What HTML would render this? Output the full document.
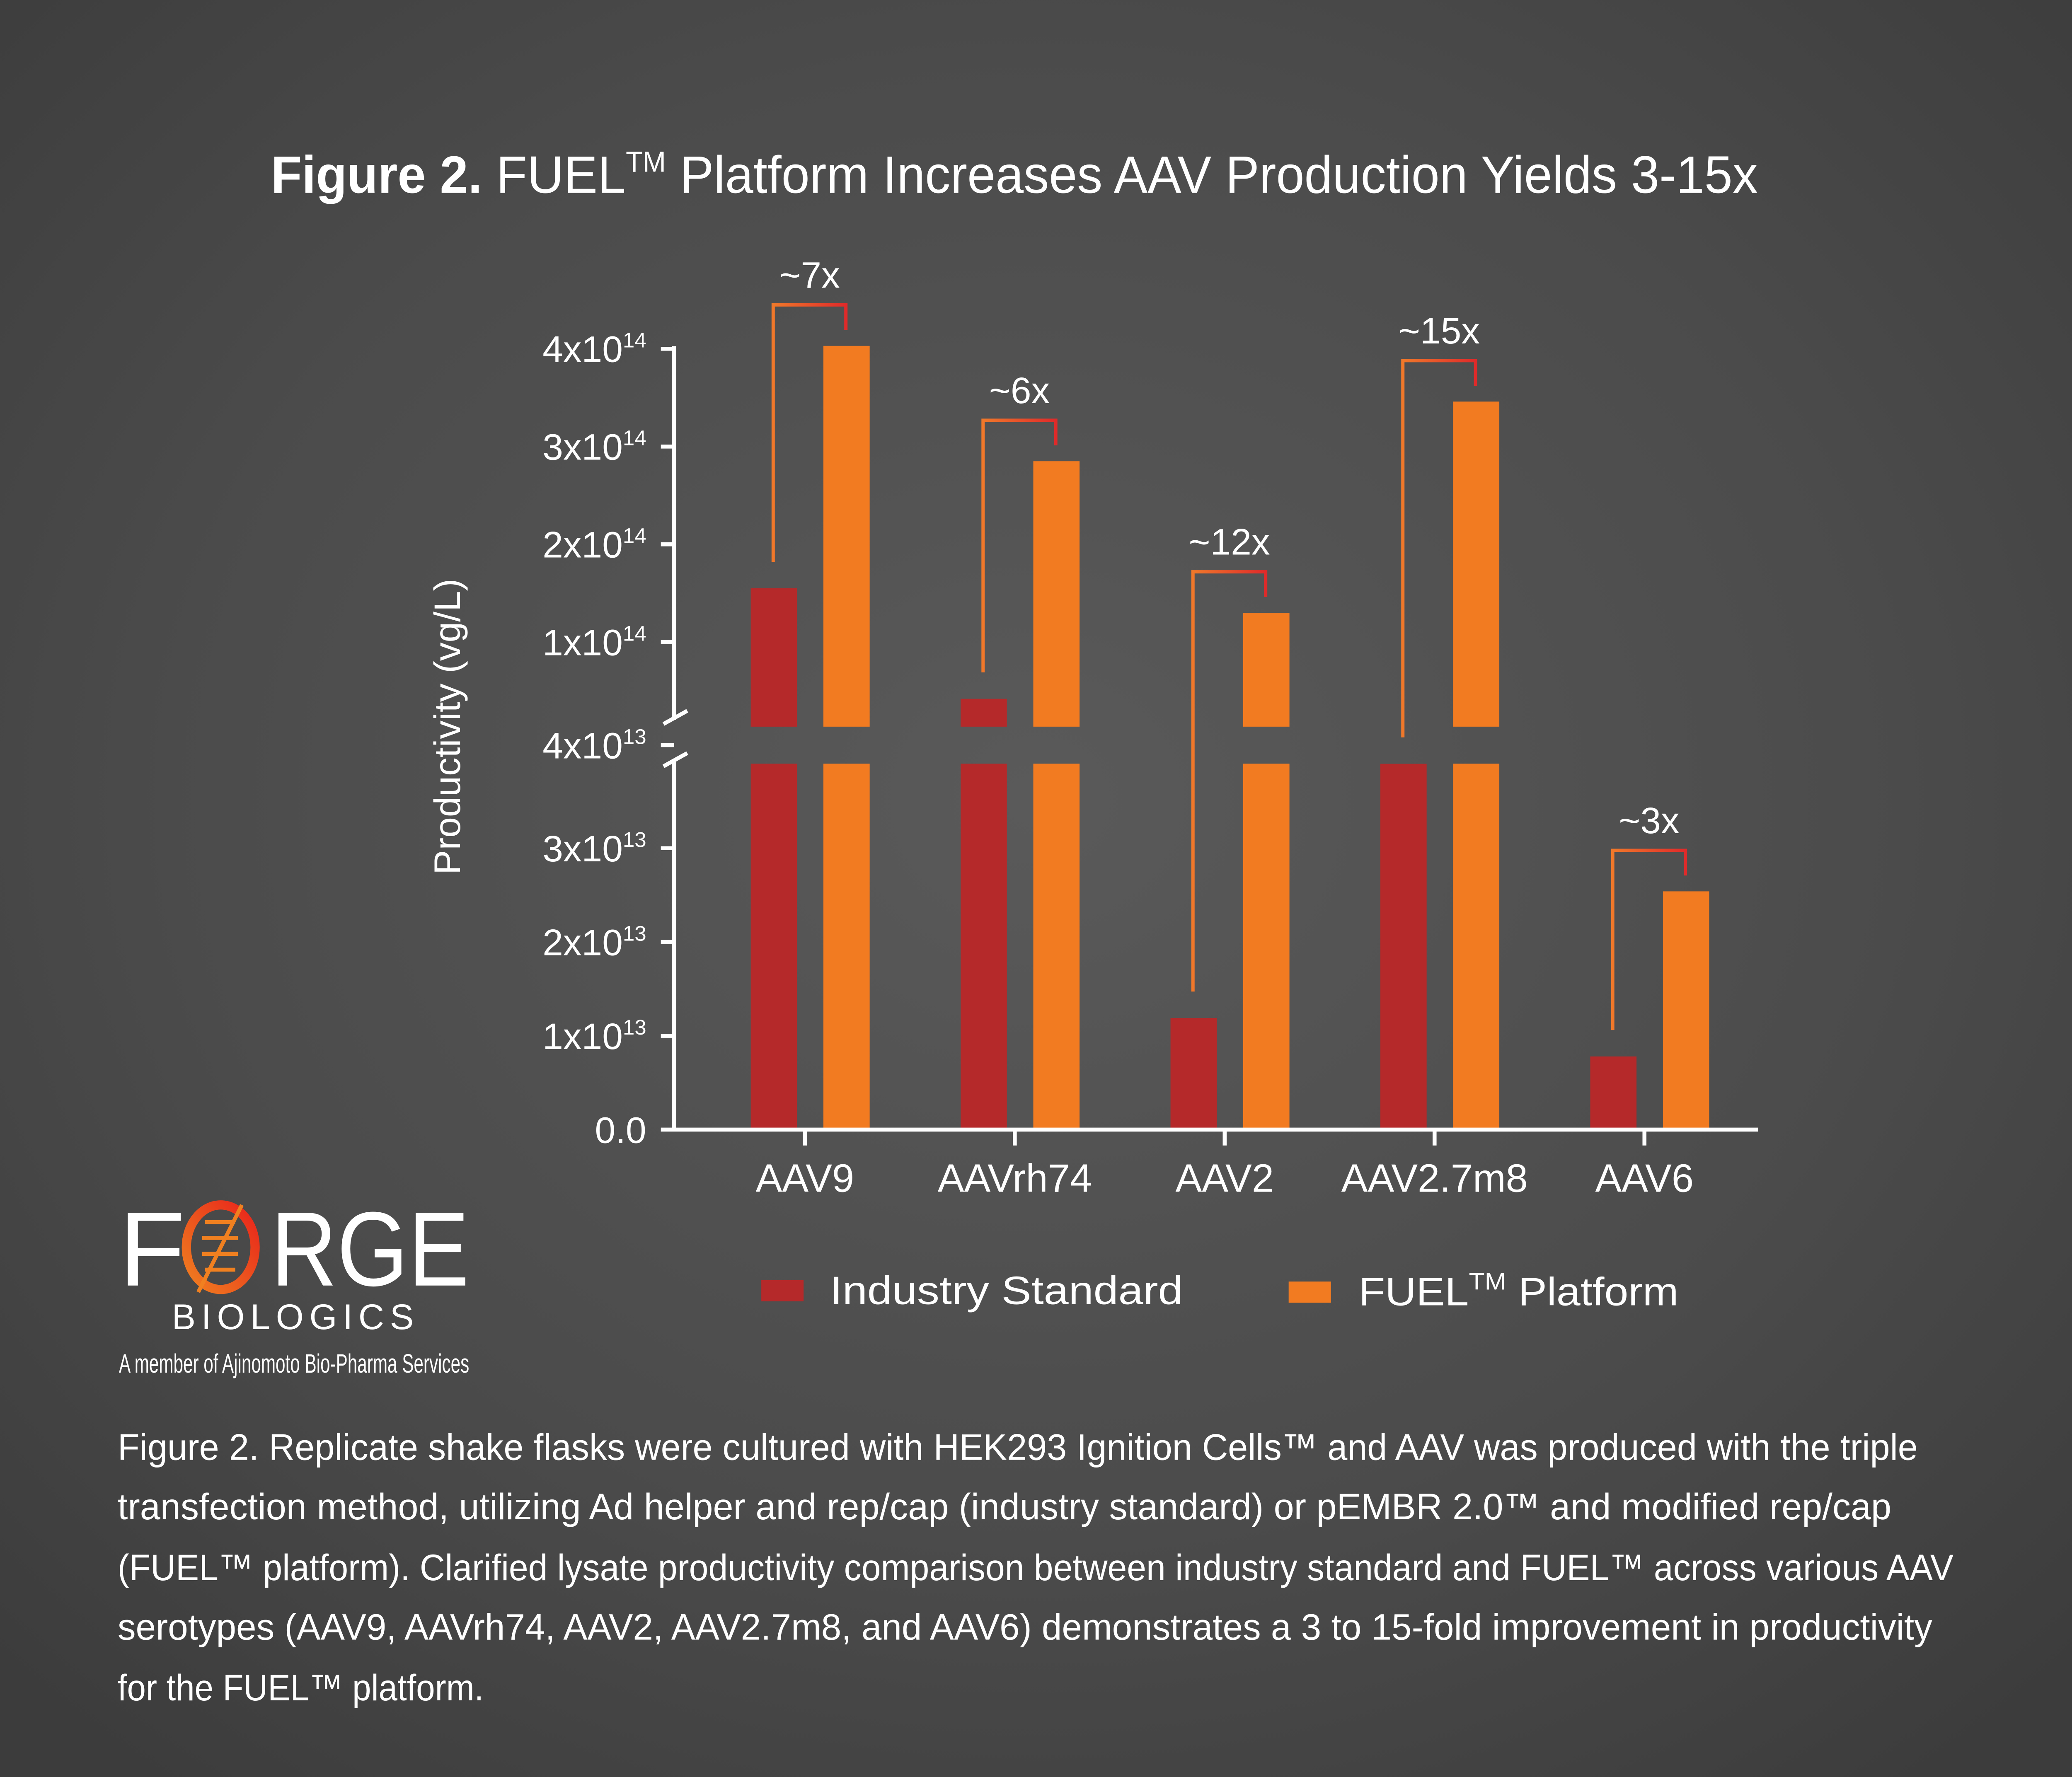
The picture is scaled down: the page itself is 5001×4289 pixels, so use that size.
<!DOCTYPE html>
<html><head><meta charset="utf-8">
<style>
html,body{margin:0;padding:0;background:#474747;}
svg{display:block;}
text{font-family:"Liberation Sans",sans-serif;fill:#fff;}
</style></head>
<body>
<svg width="5001" height="4289" viewBox="0 0 1568 1345" preserveAspectRatio="none" xmlns="http://www.w3.org/2000/svg">
<defs>
<radialGradient id="bg" cx="0.5" cy="0.45" r="0.7">
<stop offset="0" stop-color="#5a5a5a"/><stop offset="0.6" stop-color="#4b4b4b"/><stop offset="1" stop-color="#3c3c3c"/>
</radialGradient>
<linearGradient id="brk" x1="0" x2="1" y1="0" y2="0"><stop offset="0" stop-color="#f0782a"/><stop offset="1" stop-color="#e02a2a"/></linearGradient>
<linearGradient id="ologo" x1="0" x2="1" y1="1" y2="0"><stop offset="0" stop-color="#f08020"/><stop offset="1" stop-color="#e8231b"/></linearGradient>
</defs>
<rect x="0" y="0" width="1568" height="1345" fill="url(#bg)"/>

<text x="205" y="146" font-size="40" textLength="1125" lengthAdjust="spacingAndGlyphs"><tspan font-weight="bold">Figure 2.</tspan> FUEL<tspan font-size="22" dy="-16">TM</tspan><tspan dy="16"> Platform Increases AAV Production Yields 3-15x</tspan></text>

<g id="chart"></g>

<text transform="translate(348,550) rotate(-90)" text-anchor="middle" font-size="28">Productivity (vg/L)</text>

<g>
<rect x="576" y="969" width="32" height="16" fill="#b5292a"/>
<text x="628" y="987" font-size="30" textLength="267" lengthAdjust="spacingAndGlyphs">Industry Standard</text>
<rect x="975" y="970" width="32" height="16" fill="#f27b21"/>
<text x="1028" y="988" font-size="30" textLength="242" lengthAdjust="spacingAndGlyphs">FUEL<tspan font-size="18" dy="-12">TM</tspan><tspan dy="12"> Platform</tspan></text>
</g>

<g>
<text x="90" y="973" font-size="80" textLength="50" lengthAdjust="spacingAndGlyphs">F</text>
<ellipse cx="167" cy="944" rx="26" ry="32" fill="none" stroke="url(#ologo)" stroke-width="7"/>
<path d="M183 912 L150 978" stroke="#f08020" stroke-width="3" fill="none"/>
<g stroke="#f08020" stroke-width="3"><line x1="155" y1="925" x2="178" y2="925"/><line x1="153" y1="937" x2="180" y2="937"/><line x1="153" y1="949" x2="180" y2="949"/><line x1="155" y1="961" x2="178" y2="961"/></g>
<text x="205" y="973" font-size="80" textLength="150" lengthAdjust="spacingAndGlyphs">RGE</text>
<text x="130" y="1006" font-size="27" textLength="188" lengthAdjust="spacing" letter-spacing="5">BIOLOGICS</text>
<text x="90" y="1039" font-size="20" textLength="265" lengthAdjust="spacingAndGlyphs">A member of Ajinomoto Bio-Pharma Services</text>
</g>

<g font-size="28">
<text x="89" y="1105" textLength="1362" lengthAdjust="spacingAndGlyphs">Figure 2. Replicate shake flasks were cultured with HEK293 Ignition Cells™ and AAV was produced with the triple</text>
<text x="89" y="1150" textLength="1342" lengthAdjust="spacingAndGlyphs">transfection method, utilizing Ad helper and rep/cap (industry standard) or pEMBR 2.0™ and modified rep/cap</text>
<text x="89" y="1196" textLength="1389" lengthAdjust="spacingAndGlyphs">(FUEL™ platform). Clarified lysate productivity comparison between industry standard and FUEL™ across various AAV</text>
<text x="89" y="1241" textLength="1373" lengthAdjust="spacingAndGlyphs">serotypes (AAV9, AAVrh74, AAV2, AAV2.7m8, and AAV6) demonstrates a 3 to 15-fold improvement in productivity</text>
<text x="89" y="1287" textLength="277" lengthAdjust="spacingAndGlyphs">for the FUEL™ platform.</text>
</g>

<script>
const categories = ["AAV9","AAVrh74","AAV2","AAV2.7m8","AAV6"];
const industryValues = [1.55e14, 4.2e13, 1.19e13, 3.9e13, 0.78e13];
const fuelValues = [4.03e14, 2.85e14, 1.3e14, 3.46e14, 2.54e13];
const foldLabels = ["~7x","~6x","~12x","~15x","~3x"];
const lowerTicks = [0, 1e13, 2e13, 3e13];
const lowerTickLabels = [["0.0",""],["1x10","13"],["2x10","13"],["3x10","13"]];
const upperTicks = [1e14, 2e14, 3e14, 4e14];
const upperTickLabels = [["1x10","14"],["2x10","14"],["3x10","14"],["4x10","14"]];

const NS = "http://www.w3.org/2000/svg";
const g = document.getElementById("chart");
const axisX = 510, axisY = 855, axisRight = 1330;
const lowerCapY = 578, upperBaseY = 550, lowerMax = 4e13;
function yLower(v){ return 855 - v * 71 / 1e13; }
function yUpper(v){ return 560 - v * 74 / 1e14; }
function xGroup(i){ return 613 + i * 158.8; }
function mk(tag, attrs){ const e = document.createElementNS(NS, tag); for (const k in attrs) e.setAttribute(k, attrs[k]); g.appendChild(e); return e; }

function drawBar(v, x, color, name){
  const lowTop = Math.max(yLower(Math.min(v, lowerMax)), lowerCapY);
  const r = mk("rect", {x: x, y: lowTop, width: 35, height: axisY - lowTop, fill: color});
  
  
  let top = lowTop;
  if (v > lowerMax) {
    const t = yUpper(v);
    const u = mk("rect", {x: x, y: t, width: 35, height: upperBaseY - t, fill: color});
    
    
    top = t;
  }
  return top;
}
categories.forEach((c, i) => {
  const cx = xGroup(i);
  const xi = cx - 45, xf = cx + 10;
  const ti = drawBar(industryValues[i], xi, "#b5292a", "bar-industry-" + c.toLowerCase());
  const tf = drawBar(fuelValues[i], xf, "#f27b21", "bar-fuel-" + c.toLowerCase());
  const lx = xi + 17, rx = xf + 17, topY = tf - 31;
  const p = mk("path", {d: `M${lx} ${ti - 20} L${lx} ${topY} L${rx} ${topY} L${rx} ${tf - 12}`, fill: "none", stroke: "url(#brk)", "stroke-width": 2.5});
  
  
  const t = mk("text", {x: (lx + rx) / 2, y: topY - 13, "text-anchor": "middle", "font-size": 28});
  t.textContent = foldLabels[i];
  
  
  const tk = mk("line", {x1: cx - 4, x2: cx - 4, y1: axisY, y2: axisY + 12, stroke: "#fff", "stroke-width": 3});
  
  
  const xl = mk("text", {x: cx - 4, y: 902, "text-anchor": "middle", "font-size": 30});
  xl.textContent = c;
  
  
});

const ya1 = mk("line", {x1: axisX, x2: axisX, y1: 262, y2: 545, stroke: "#fff", "stroke-width": 3});


const ya2 = mk("line", {x1: axisX, x2: axisX, y1: 575, y2: axisY, stroke: "#fff", "stroke-width": 3});


const b1 = mk("line", {x1: 502, x2: 520, y1: 548, y2: 538, stroke: "#fff", "stroke-width": 3});


const b2 = mk("line", {x1: 502, x2: 520, y1: 580, y2: 570, stroke: "#fff", "stroke-width": 3});


const xa = mk("line", {x1: 500, x2: axisRight, y1: axisY, y2: axisY, stroke: "#fff", "stroke-width": 3});



function tickLabel(y, lab, name){
  if (lab[1] !== "") {
    const tk = mk("line", {x1: 500, x2: axisX, y1: y, y2: y, stroke: "#fff", "stroke-width": 3});
    
    
  }
  const t = mk("text", {x: 489, y: y + 10, "text-anchor": "end", "font-size": 28});
  
  
  const a = document.createElementNS(NS, "tspan"); a.textContent = lab[0]; t.appendChild(a);
  if (lab[1]) { const s = document.createElementNS(NS, "tspan"); s.setAttribute("font-size", 16); s.setAttribute("dy", -11); s.textContent = lab[1]; t.appendChild(s); }
}
lowerTicks.forEach((v, i) => tickLabel(yLower(v), lowerTickLabels[i], 'y-tick-lower-' + i));
upperTicks.forEach((v, i) => tickLabel(yUpper(v), upperTickLabels[i], 'y-tick-upper-' + i));
tickLabel(564, ["4x10", "13"], 'y-tick-break');
</script>
</svg>
</body></html>
